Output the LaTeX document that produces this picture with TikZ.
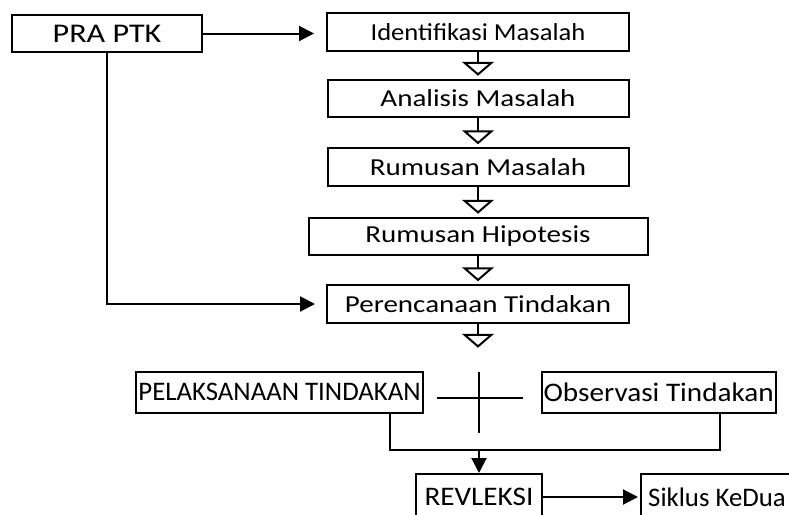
\documentclass[tikz,border=0pt]{standalone}
\usepackage{fontspec}
\setmainfont{Carlito}
\newfontfamily\widefont{Carlito}[FakeStretch=1.19]
\newfontfamily\midfont{Carlito}[FakeStretch=1.09]
\usetikzlibrary{arrows.meta,positioning}

\begin{document}
\begin{tikzpicture}[
  x=1pt, y=-1pt,
  node distance=28pt and 100pt,
  stepbox/.style={draw, line width=2pt, minimum height=37.5pt, inner sep=0pt, font=\widefont\fontsize{24.4pt}{28pt}\selectfont},
  lowbox/.style={draw, line width=2pt, minimum height=41pt, inner sep=2pt, font=\fontsize{26.8pt}{30pt}\selectfont},
  narrow/.style={font=\midfont\fontsize{#1}{30pt}\selectfont},
  link/.style={line width=2pt},
  arrow/.style={-{Triangle[length=15pt,width=15pt]}, line width=2pt},
  hollow/.style={-{Triangle[open,length=14pt,width=32pt]}, line width=2pt}
]
\useasboundingbox (0,0) rectangle (789,514);
\clip (0,0) rectangle (789,514);

\node[stepbox, minimum width=190pt, font=\widefont\fontsize{27pt}{30pt}\selectfont] (pra) at (107,33.5) {PRA PTK};
\node[stepbox, minimum width=302pt, narrow=24.4pt] (ident) at (478,32) {Identifikasi Masalah};
\node[stepbox, minimum width=301pt, below=27pt of ident] (anal) {Analisis Masalah};
\node[stepbox, minimum width=301pt, below=29pt of anal] (rumus) {Rumusan Masalah};
\node[stepbox, minimum width=339pt, below=30pt of rumus] (hipo) {Rumusan Hipotesis};
\node[stepbox, minimum width=302pt, below=28pt of hipo] (renc) {Perencanaan Tindakan};
\coordinate[below=24pt of renc] (gap);

\node[lowbox, minimum width=283pt] (pelaks) at (279.5,392) {PELAKSANAAN TINDAKAN};
\node[lowbox, minimum width=233pt, narrow=26.8pt, right=117pt of pelaks] (obs) {Observasi Tindakan};
\coordinate (cross) at (479,398);
\coordinate (join) at (479,450);
\node[lowbox, minimum width=126pt, minimum height=46pt, narrow=26.8pt] (revl) at (479,497) {REVLEKSI};
\node[lowbox, minimum width=152pt, minimum height=46pt, right=97pt of revl] (siklus) {Siklus KeDua};

% alur utama
\draw[arrow, shorten >=12pt] (pra.east) -- (pra.east -| ident.west);
\draw[arrow, shorten >=11pt] (pra.south) |- (renc.west);
\foreach \a/\b in {ident/anal, anal/rumus, rumus/hipo, hipo/renc}
  \draw[hollow, shorten >=3pt] (\a) -- (\b);
\draw[hollow] (renc.south) -- (gap);

% siklus
\draw[link] ([xshift=-42pt]cross) -- ([xshift=44pt]cross);
\draw[link] ([yshift=26pt]cross) -- ([yshift=-35pt]cross);
\coordinate (lft) at ([xshift=-34pt]pelaks.south east);
\coordinate (rgt) at ([xshift=-57pt]obs.south east);
\draw[link] (lft) -- (lft |- join) -- (rgt |- join) -- (rgt);
\draw[arrow] (join) -- (revl);
\draw[arrow, shorten >=2pt] (revl) -- (siklus);
\end{tikzpicture}
\end{document}
